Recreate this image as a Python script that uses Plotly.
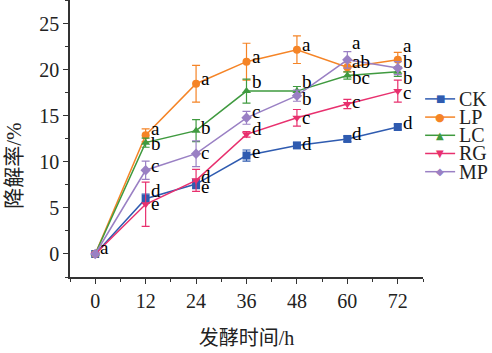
import plotly.graph_objects as go

hours = [0, 12, 24, 36, 48, 60, 72]
series_names = ["CK", "LP", "LC", "RG", "MP"]
CK = [0, 6.0, 7.6, 10.7, 11.8, 12.5, 13.8]
LP = [0, 12.9, 18.5, 20.9, 22.2, 20.3, 21.1]
LC = [0, 12.1, 13.4, 17.7, 17.7, 19.4, 19.8]
RG = [0, 5.4, 8.0, 13.0, 14.8, 16.3, 17.7]
MP = [0, 9.1, 10.9, 14.8, 17.2, 21.1, 20.2]
CK_err = [0, 0.5, 0.5, 0.6, 0.3, 0.3, 0.3]
LP_err = [0, 0.7, 2.0, 2.0, 1.5, 0.5, 0.8]
LC_err = [0, 0.5, 1.2, 1.3, 0.5, 0.4, 0.5]
RG_err = [0, 2.4, 1.2, 0.3, 0.9, 0.5, 1.2]
MP_err = [0, 1.0, 1.4, 0.7, 0.6, 0.9, 0.7]
# significance letters
CK_sig = ["", "d", "e", "e", "d", "d", "d"]
LP_sig = ["", "a", "a", "a", "a", "ab", "a"]
LC_sig = ["", "b", "b", "b", "b", "bc", "b"]
RG_sig = ["", "e", "d", "d", "c", "c", "c"]
MP_sig = ["a", "c", "c", "c", "b", "a", "b"]

colors = {"CK": "#2f5bb0", "LP": "#f58426", "LC": "#3f9a3f", "RG": "#e8306e", "MP": "#9a80c4"}
symbols = {"CK": "square", "LP": "circle", "LC": "triangle-up", "RG": "triangle-down", "MP": "diamond"}
glyphs = {"CK": "■", "LP": "●", "LC": "▲", "RG": "▼", "MP": "◆"}
# pixel offsets for letters (style)
yshifts = {
    "CK": [0, 8, -2, 4, 2, 5, 5],
    "LP": [0, 7, 5, 5, 5, 6, 14],
    "LC": [0, -1, 3, 10, 10, -2, -6],
    "RG": [0, 1, 4, 6, 0, 2, -1],
    "MP": [6, 5, 1, 6, -3, 17, 7],
}

data = {"CK": (CK, CK_err, CK_sig), "LP": (LP, LP_err, LP_sig), "LC": (LC, LC_err, LC_sig),
        "RG": (RG, RG_err, RG_sig), "MP": (MP, MP_err, MP_sig)}

FONT = "Liberation Serif, Times New Roman, Noto Sans CJK SC, serif"

fig = go.Figure()
annotations = []
shapes = []
for k, name in enumerate(series_names):
    vals, err, sig = data[name]
    c = colors[name]
    fig.add_trace(go.Scatter(
        x=hours, y=vals, name=name, mode="lines+markers", showlegend=False,
        line=dict(color=c, width=1.5),
        marker=dict(symbol=symbols[name], size=8, color=c),
        error_y=dict(type="data", array=err, visible=True, color=c, thickness=1.2, width=4),
    ))
    for i, (h, v, s) in enumerate(zip(hours, vals, sig)):
        if s:
            annotations.append(dict(x=h, y=v, text=s, showarrow=False, xanchor="left", yanchor="middle",
                                    xshift=3, yshift=yshifts[name][i],
                                    font=dict(family=FONT, size=19, color="black")))
    # manual legend entry
    ly = 0.643 - k * 0.0657
    shapes.append(dict(type="line", xref="paper", yref="paper", x0=1.006, x1=1.091, y0=ly, y1=ly,
                       line=dict(color=c, width=1.5)))
    annotations.append(dict(xref="paper", yref="paper", x=1.0485, y=ly, text=glyphs[name], showarrow=False,
                            xanchor="center", yanchor="middle",
                            font=dict(family="DejaVu Sans", size=10 if name != "LP" else 11, color=c)))
    annotations.append(dict(xref="paper", yref="paper", x=1.097, y=ly, text=name, showarrow=False,
                            xanchor="left", yanchor="middle",
                            font=dict(family=FONT, size=20, color="#222")))

annotations.append(dict(xref="paper", yref="paper", x=-0.157, y=0.40, text="降解率/%", textangle=-90,
                        showarrow=False, xanchor="center", yanchor="middle",
                        font=dict(family=FONT, size=21, color="#222")))

fig.update_layout(
    width=492, height=353,
    margin=dict(l=70, r=69, t=0, b=76),
    paper_bgcolor="white", plot_bgcolor="white",
    font=dict(family=FONT, size=19, color="#222"),
    showlegend=False,
    annotations=annotations,
    shapes=shapes,
)
fig.update_xaxes(range=[-6, 78], tickvals=hours, ticks="outside", ticklen=5, tickwidth=1.2,
                 showline=True, linecolor="#333", linewidth=1.5, showgrid=False, zeroline=False,
                 minor=dict(dtick=6, tick0=0, ticks="outside", ticklen=3, tickcolor="#333"),
                 tickcolor="#333", tickfont=dict(size=20, family=FONT),
                 title=dict(text="发酵时间/h", font=dict(size=20, family=FONT), standoff=20))
fig.update_yaxes(range=[-2.5, 27.6], tickvals=[0, 5, 10, 15, 20, 25], ticks="outside", ticklen=5, tickwidth=1.2,
                 showline=True, linecolor="#333", linewidth=1.5, showgrid=False, zeroline=False,
                 minor=dict(dtick=2.5, tick0=0, ticks="outside", ticklen=3, tickcolor="#333"),
                 tickcolor="#333", tickfont=dict(size=20, family=FONT))

fig.write_html("out.html")
